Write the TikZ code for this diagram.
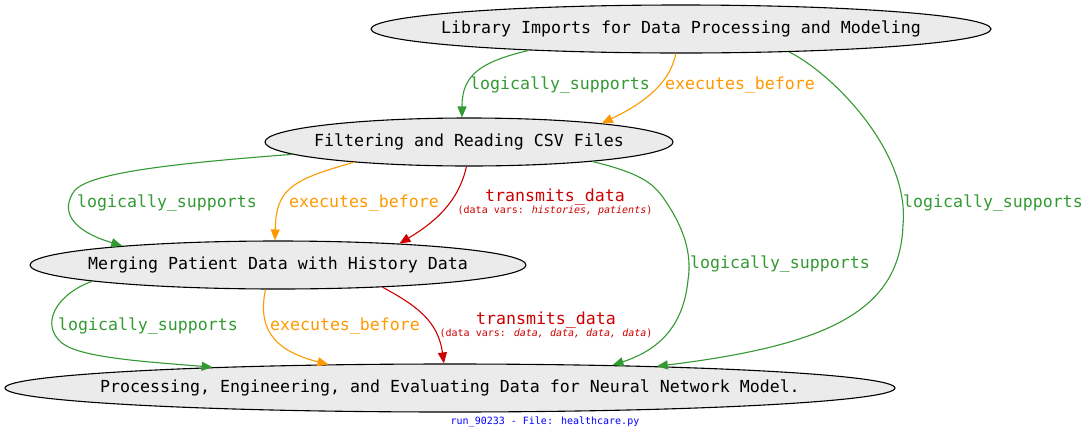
\documentclass[tikz,border=0pt]{standalone}
\usepackage{fontspec}
\newfontfamily\dvm{DejaVu Sans Mono}
\usetikzlibrary{shapes.geometric,arrows.meta}
\definecolor{nodefill}{HTML}{EBEBEB}
\definecolor{egreen}{RGB}{51,153,51}
\definecolor{eorange}{RGB}{255,153,0}
\definecolor{ered}{RGB}{204,0,0}
\definecolor{fblue}{RGB}{0,0,255}
\newcommand{\zb}[1]{\makebox[0pt]{#1}}
\tikzset{
  stmt/.style={ellipse, draw=black, line width=1.1pt, fill=nodefill, inner sep=0pt,
    minimum height=48pt, font=\dvm\fontsize{16.6}{20}\selectfont},
  edge/.style={line width=1.1pt, -{Triangle[length=11pt,width=9pt]}},
  supp/.style={edge, draw=egreen},
  exec/.style={edge, draw=eorange},
  trans/.style={edge, draw=ered},
  lbl/.style={inner sep=0pt, font=\dvm\fontsize{16.6}{20}\selectfont},
  small/.style={inner sep=0pt, font=\dvm\fontsize{10}{12}\selectfont},
}
\begin{document}
\begin{tikzpicture}[x=1pt,y=-1pt]
\useasboundingbox (0,0) rectangle (1090,440);
\node[stmt, minimum width=620pt] (lib) at (681,29) {\zb{Library Imports for Data Processing and Modeling}};
\node[stmt, minimum width=408pt] (filt) at (469,142) {\zb{Filtering and Reading CSV Files}};
\node[stmt, minimum width=496pt] (merg) at (278,265) {\zb{Merging Patient Data with History Data}};
\node[stmt, minimum width=890pt] (proc) at (450,388) {\zb{Processing, Engineering, and Evaluating Data for Neural Network Model.}};

% lib -> filt
\draw[supp] (lib.188) .. controls (480,62) and (462,75) .. (filt.106);
\draw[exec] (lib.258) .. controls (670,85) and (640,105) .. (filt.8.4);
% lib -> proc
\coordinate (c3) at (903,225);
\draw[supp] (lib.-12.5) .. controls (830,72) and (910,150) .. (c3)
  .. controls (900,310) and (830,345) .. (proc.6.4);
% filt -> merg
\coordinate (c4) at (75,190);
\draw[supp] (filt.184.5) .. controls (150,165) and (90,175) .. (c4)
  .. controls (60,210) and (70,230) .. (merg.173.6);
\draw[exec] (filt.190.4) .. controls (290,180) and (276,190) .. (merg.97);
\draw[trans] (filt.264) .. controls (458,205) and (430,225) .. (merg.10.2);
% filt -> proc
\coordinate (c7a) at (662,196);
\coordinate (c7b) at (688,280);
\draw[supp] (filt.-9.2) .. controls (640,173) and (652,183) .. (c7a)
  .. controls (685,228) and (692,255) .. (c7b)
  .. controls (684,320) and (665,348) .. (proc.8.1);
% merg -> proc
\coordinate (c8) at (62,343);
\draw[supp] (merg.185.8) .. controls (55,295) and (40,325) .. (c8)
  .. controls (80,358) and (150,362) .. (proc.175.8);
\draw[exec] (merg.243.4) .. controls (258,325) and (270,350) .. (proc.169.8);
\draw[trans] (merg.-12.2) .. controls (415,305) and (438,320) .. (proc.104);

% labels
\node[lbl, text=egreen] (l1) at (560,85) {logically\_supports};
\node[lbl, text=eorange] (l2) at (740,85) {executes\_before};
\node[lbl, text=egreen] (l3) at (993,203) {logically\_supports};
\node[lbl, text=egreen] (l4) at (167,203) {logically\_supports};
\node[lbl, text=eorange] (l5) at (364,203) {executes\_before};
\node[lbl, text=ered] (l6) at (555,197) {transmits\_data};
\node[small, text=ered] (l6s) at (555,211) {(data vars: \textit{histories, patients})};
\node[lbl, text=egreen] (l7) at (780,264) {logically\_supports};
\node[lbl, text=egreen] (l8) at (148,326) {logically\_supports};
\node[lbl, text=eorange] (l9) at (345,326) {executes\_before};
\node[lbl, text=ered] (l10) at (546,320) {transmits\_data};
\node[small, text=ered] (l10s) at (546,333) {(data vars: \textit{data, data, data, data})};
\node[small, text=fblue] (foot) at (545,422) {run\_90233 - File: healthcare.py};
\end{tikzpicture}
\end{document}
